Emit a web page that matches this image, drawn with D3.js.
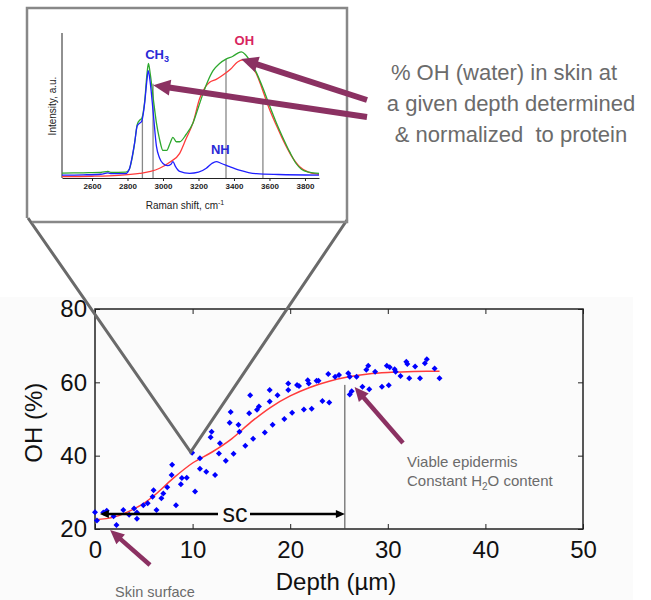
<!DOCTYPE html>
<html>
<head>
<meta charset="utf-8">
<script src="https://cdn.jsdelivr.net/npm/d3@7/dist/d3.min.js"></script>
<style>
body { margin: 0; background: #fff; }
svg { display: block; }
</style>
</head>
<body>
<div id="hook-oh-depth"></div>
<script>
'use strict';

// depth profile: [depth um, OH %]
var depthPoints = [
  [0.0,24.6],[0.2,22.3],[0.85,24.5],[1.2,25.0],[1.9,23.5],[2.2,21.1],[2.9,25.2],[3.5,23.9],
  [4.0,25.6],[4.3,24.5],[4.3,22.8],[4.95,26.5],[5.4,27.0],[5.9,28.8],[6.0,30.6],[6.3,25.2],
  [6.8,28.4],[7.0,29.7],[7.4,31.4],[7.9,37.5],[7.85,34.7],[8.3,26.5],[8.8,32.2],[8.9,33.9],
  [9.4,34.0],[9.95,40.8],[10.25,30.2],[10.75,39.3],[10.75,36.4],[11.4,35.6],[11.85,45.0],
  [11.95,46.5],[12.3,34.7],[12.8,43.4],[12.7,40.6],[13.4,38.6],[13.8,49.0],[13.9,51.9],
  [14.2,40.5],[14.7,48.4],[14.8,46.5],[15.4,42.7],[15.9,56.5],[15.8,51.6],[16.2,44.6],
  [16.6,52.5],[16.8,53.4],[17.4,46.3],[17.9,57.9],[17.9,54.8],[18.2,48.4],[18.7,56.5],
  [19.4,50.0],[19.8,57.9],[19.8,59.7],[20.2,51.7],[20.7,59.3],[20.9,59.0],[21.4,52.6],
  [21.8,60.6],[21.9,59.7],[22.2,52.8],[22.7,60.4],[22.9,60.4],[23.3,54.9],[23.9,62.3],
  [24.0,54.5],[24.6,61.5],[25.0,62.0],[25.95,62.5],[26.1,61.5],[26.1,56.7],[26.3,57.6],
  [26.8,61.5],[27.4,58.8],[27.8,63.4],[28.0,64.5],[28.1,58.1],[28.7,62.9],[29.4,58.8],
  [29.9,64.5],[30.1,59.2],[30.2,64.1],[30.7,63.6],[30.8,62.9],[31.3,61.7],[31.9,65.6],
  [32.0,65.0],[32.2,61.1],[32.8,64.3],[33.3,61.1],[33.8,65.2],[34.0,66.3],[34.8,63.8],
  [35.3,61.1]
];
var fitCurve = [
  [0,22.5],[2,23.3],[4,25.5],[5,27],[6,29],[8,33.8],[10,38.0],[12,41.0],[14,44.6],[16,49.2],
  [18,53.2],[20,56.3],[22,58.6],[24,60.3],[26,61.5],[28,62.3],[30,62.7],[32,62.9],[34,63.0],[35.3,63.0]
];
var depthTicks = [0, 10, 20, 30, 40, 50];
var ohTicks = [20, 40, 60, 80];
var scDepth = 25.6;

// raman spectra: [wavenumber cm-1, intensity a.u.]
var spectrumTotal = [
  [2431,3.4],[2550,3.6],[2650,3.8],[2690,4.5],[2710,3.8],[2790,4],[2810,6],[2825,13],[2840,24],
  [2855,37],[2870,40],[2880,41],[2897,53],[2910,72],[2918,79],[2928,72],[2945,55],[2963,38],
  [2980,27],[3000,19],[3020,19],[3040,24],[3056,28],[3075,25],[3094,25],[3130,30],[3169,38],
  [3200,49],[3225,58],[3250,66],[3282,74],[3319,79],[3355,82],[3394,84],[3420,86],[3442,87],
  [3465,85],[3489,81],[3525,73],[3563,62],[3600,50],[3639,38],[3675,28],[3714,18],[3750,10],
  [3780,6],[3820,4],[3879,3.2]
];
var spectrumWater = [
  [2431,1],[2600,1.2],[2750,1.8],[2869,3.2],[2930,4.5],[2981,6.7],[3040,11],[3094,17],[3130,27],
  [3169,38],[3207,55],[3240,63],[3263,66],[3300,68],[3338,71],[3380,75],[3420,80],[3451,81.4],
  [3490,78],[3526,72],[3563,60],[3601,47],[3640,36],[3677,26],[3720,16],[3770,7.8],[3820,4],
  [3864,2.8],[3879,2.6]
];
var spectrumProtein = [
  [2431,2],[2550,2.2],[2650,2.6],[2690,3.5],[2710,3],[2790,3],[2810,6],[2822,12],[2840,24],
  [2855,36],[2870,38],[2880,39],[2897,52],[2910,68],[2917,74],[2928,66],[2945,45],[2963,22],
  [2980,14],[3000,10],[3025,8.5],[3045,9.5],[3056,11.3],[3070,8],[3094,4.5],[3150,3.2],[3200,4],
  [3244,6.7],[3275,10],[3300,11.3],[3330,10],[3376,7.8],[3430,5.5],[3526,3],[3650,2.4],[3879,2]
];
var ramanTicks = [2600, 2800, 3000, 3200, 3400, 3600, 3800];
var bandLines = [[2884,40],[2944,65],[3355,82],[3563,54]];
var bandLabels = [
  {text: 'CH', sub: '3', wn: 2900, y: 82, color: '#2a2ad6'},
  {text: 'OH', sub: '', wn: 3403, y: 92, color: '#d8245e'},
  {text: 'NH', sub: '', wn: 3270, y: 16.5, color: '#2a2ad6'}
];
var noteLines = ['% OH (water) in skin at', 'a given depth determined', '& normalized  to protein'];

var W = 651, H = 600;
var purple = '#8b3162', noteGray = '#6b6b6b', frameGray = '#6a6a6a', lowerBg = '#fbfbfb';

var svg = d3.select('#hook-oh-depth')
  .append('svg')
  .attr('width', W)
  .attr('height', H)
  .style('font-family', 'Liberation Sans, Arial, sans-serif');

svg.append('rect')
  .attr('x', 0).attr('y', 297).attr('width', 633).attr('height', H - 297)
  .style('fill', lowerBg);

function arrow(g, x1, y1, x2, y2, w, headLen, headW, color) {
  var a = Math.atan2(y2 - y1, x2 - x1);
  var bx = x2 - headLen * Math.cos(a), by = y2 - headLen * Math.sin(a);
  var px = -Math.sin(a) * headW / 2, py = Math.cos(a) * headW / 2;
  g.append('line')
    .attr('x1', x1).attr('y1', y1).attr('x2', bx + Math.cos(a)).attr('y2', by + Math.sin(a))
    .style('stroke', color).style('stroke-width', w);
  g.append('path')
    .attr('d', 'M' + x2 + ',' + y2 + 'L' + (bx + px) + ',' + (by + py) + 'L' + (bx - px) + ',' + (by - py) + 'Z')
    .style('fill', color);
}

// ---------- main depth chart ----------
var x = d3.scaleLinear().domain([0, 50]).range([95, 583]);
var y = d3.scaleLinear().domain([20, 80]).range([529, 309]);

var main = svg.append('g');

main.append('g')
  .attr('transform', 'translate(0,' + y(20) + ')')
  .call(d3.axisBottom(x).tickValues(depthTicks).tickSize(-5).tickSizeOuter(0).tickPadding(12))
  .call(function(g) {
    g.select('.domain').remove();
    g.selectAll('line').style('stroke', '#222');
    g.selectAll('text').style('font-size', '24px').style('fill', '#111').style('font-family', null);
  });
main.append('g')
  .attr('transform', 'translate(0,' + y(80) + ')')
  .call(d3.axisTop(x).tickValues(depthTicks).tickSize(-5).tickSizeOuter(0).tickFormat(''))
  .call(function(g) {
    g.select('.domain').remove();
    g.selectAll('line').style('stroke', '#222');
  });
main.append('g')
  .attr('transform', 'translate(' + x(0) + ',0)')
  .call(d3.axisLeft(y).tickValues(ohTicks).tickSize(-5).tickSizeOuter(0).tickPadding(8))
  .call(function(g) {
    g.select('.domain').remove();
    g.selectAll('line').style('stroke', '#222');
    g.selectAll('text').style('font-size', '24px').style('fill', '#111').style('font-family', null);
  });
main.append('g')
  .attr('transform', 'translate(' + x(50) + ',0)')
  .call(d3.axisRight(y).tickValues(ohTicks).tickSize(-5).tickSizeOuter(0).tickFormat(''))
  .call(function(g) {
    g.select('.domain').remove();
    g.selectAll('line').style('stroke', '#222');
  });

main.append('rect')
  .attr('x', x(0)).attr('y', y(80))
  .attr('width', x(50) - x(0)).attr('height', y(20) - y(80))
  .style('fill', 'none').style('stroke', '#222').style('stroke-width', 1.5);

main.append('text')
  .attr('transform', 'translate(34,' + y(49) + ') rotate(-90)')
  .attr('text-anchor', 'middle')
  .attr('dy', '0.35em')
  .style('font-size', '24px').style('fill', '#111')
  .text('OH (%)');
main.append('text')
  .attr('x', 336).attr('y', 590)
  .attr('text-anchor', 'middle')
  .style('font-size', '24px').style('fill', '#111')
  .text('Depth (\u00b5m)');

// SC boundary line
main.append('line')
  .attr('x1', x(scDepth)).attr('x2', x(scDepth))
  .attr('y1', y(20)).attr('y2', y(59.3))
  .style('stroke', '#444').style('stroke-width', 1);

// zoom lines from inset to the data point
var vertex = [x(9.8), y(41)];
svg.append('path')
  .attr('d', 'M28,218L' + vertex[0] + ',' + vertex[1] + 'L347,220')
  .style('fill', 'none').style('stroke', frameGray).style('stroke-width', 3)
  .style('stroke-linejoin', 'miter');

main.append('path')
  .datum(fitCurve)
  .attr('d', d3.line().x(function(d) { return x(d[0]); }).y(function(d) { return y(d[1]); }).curve(d3.curveMonotoneX))
  .style('fill', 'none').style('stroke', '#ff3b3b').style('stroke-width', 1.5);

main.selectAll('.pt')
  .data(depthPoints)
  .enter().append('path')
  .attr('class', 'pt')
  .attr('d', d3.symbol(d3.symbolSquare, 18))
  .attr('transform', function(d) { return 'translate(' + x(d[0]) + ',' + y(d[1]) + ') rotate(45)'; })
  .style('fill', '#0000ff');

// sc double arrow
var scY = y(24.1);
arrow(main, x(12.5), scY, x(0.5), scY, 2.5, 9, 8, '#000');
arrow(main, x(12.5), scY, x(scDepth), scY, 2.5, 9, 8, '#000');
main.append('rect')
  .attr('x', 218).attr('y', scY - 10).attr('width', 32).attr('height', 20)
  .style('fill', lowerBg);
main.append('text')
  .attr('x', 235).attr('y', scY + 8)
  .attr('text-anchor', 'middle')
  .style('font-size', '25px').style('fill', '#111')
  .text('sc');

// annotation arrows
arrow(main, 150, 565, x(1.55), y(19.7), 4.5, 14, 13, purple);
arrow(main, 403, 443, x(26.6), y(58.7), 4.5, 14, 13, purple);

main.append('text')
  .attr('x', 155).attr('y', 597)
  .attr('text-anchor', 'middle')
  .style('font-size', '14.5px').style('fill', noteGray)
  .text('Skin surface');
main.append('text')
  .attr('x', 407).attr('y', 467)
  .style('font-size', '15px').style('fill', noteGray)
  .text('Viable epidermis');
var h2o = main.append('text')
  .attr('x', 407).attr('y', 486)
  .style('font-size', '15px').style('fill', noteGray);
h2o.append('tspan').text('Constant  H');
h2o.append('tspan').attr('dy', 4).style('font-size', '10px').text('2');
h2o.append('tspan').attr('dy', -4).text('O content');

// ---------- inset spectrum ----------
var ix = d3.scaleLinear().domain([2431, 3879]).range([62, 319]);
var iy = d3.scaleLinear().domain([0, 100]).range([178, 33]);
var inset = svg.append('g');

inset.append('path')
  .attr('d', 'M27,218V8H347V222H32')
  .style('fill', 'none').style('stroke', '#888').style('stroke-width', 2.5);

inset.append('line')
  .attr('x1', ix.range()[0]).attr('x2', ix.range()[0])
  .attr('y1', iy(100)).attr('y2', iy(0))
  .style('stroke', '#222').style('stroke-width', 1);

inset.append('g')
  .attr('transform', 'translate(0,' + iy(0) + ')')
  .call(d3.axisBottom(ix).tickValues(ramanTicks).tickFormat(d3.format('d'))
    .tickSize(3).tickSizeOuter(0).tickPadding(2))
  .call(function(g) {
    g.select('.domain').style('stroke', '#222');
    g.selectAll('line').style('stroke', '#222');
    g.selectAll('text')
      .style('font-family', 'Liberation Sans Narrow, Liberation Sans, Arial, sans-serif')
      .style('font-size', '8px').style('font-weight', 'bold').style('fill', '#222');
  });

inset.selectAll('.band')
  .data(bandLines)
  .enter().append('line')
  .attr('class', 'band')
  .attr('x1', function(d) { return ix(d[0]); })
  .attr('x2', function(d) { return ix(d[0]); })
  .attr('y1', iy(0))
  .attr('y2', function(d) { return iy(d[1]); })
  .style('stroke', '#888').style('stroke-width', 1.3);

var iline = d3.line()
  .x(function(d) { return ix(d[0]); })
  .y(function(d) { return iy(d[1]); })
  .curve(d3.curveMonotoneX);

[[spectrumWater, '#ff3b3b'], [spectrumTotal, '#2ea82e'], [spectrumProtein, '#2020ff']].forEach(function(s) {
  inset.append('path')
    .datum(s[0])
    .attr('d', iline)
    .style('fill', 'none').style('stroke', s[1]).style('stroke-width', 1.3);
});

bandLabels.forEach(function(b) {
  var t = inset.append('text')
    .attr('x', ix(b.wn)).attr('y', iy(b.y))
    .style('font-size', '13px').style('font-weight', 'bold').style('fill', b.color)
    .text(b.text);
  if (b.sub) {
    t.append('tspan').attr('dy', 3).style('font-size', '9px').text(b.sub);
  }
});

inset.append('text')
  .attr('transform', 'translate(52,106) rotate(-90)')
  .attr('text-anchor', 'middle')
  .attr('dy', '0.35em')
  .style('font-family', 'Liberation Sans Narrow, Liberation Sans, Arial, sans-serif')
  .style('font-size', '10px').style('fill', '#222')
  .text('Intensity, a.u.');
var rs = inset.append('text')
  .attr('x', 185).attr('y', 209)
  .attr('text-anchor', 'middle')
  .style('font-family', 'Liberation Sans Narrow, Liberation Sans, Arial, sans-serif')
  .style('font-size', '10px').style('fill', '#222');
rs.append('tspan').text('Raman shift, cm');
rs.append('tspan').attr('dy', -4).style('font-size', '7px').text('-1');

// arrows from the note to the peaks
arrow(svg, 367, 100, ix(3440), iy(82), 6, 17, 16, purple);
arrow(svg, 367, 117, ix(2945), iy(64), 6, 17, 16, purple);

svg.append('g').selectAll('text')
  .data(noteLines)
  .enter().append('text')
  .attr('x', function(d, i) { return [504, 511, 511][i]; })
  .attr('y', function(d, i) { return 80 + i * 31; })
  .attr('text-anchor', 'middle')
  .style('font-size', '22px').style('fill', noteGray)
  .style('white-space', 'pre')
  .text(function(d) { return d; });
</script>
</body>
</html>
